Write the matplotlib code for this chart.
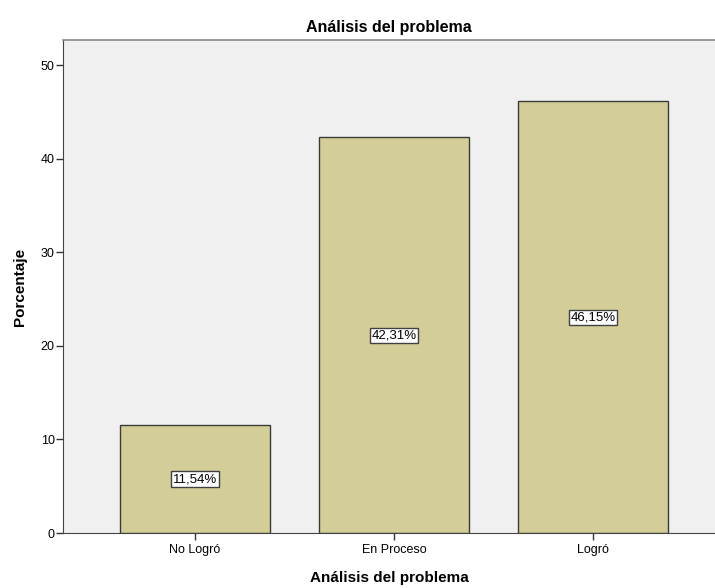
import matplotlib
matplotlib.use('Agg')
import matplotlib.pyplot as plt
import numpy as np

plt.rcParams['font.family'] = ['Liberation Sans', 'DejaVu Sans']

categorias = ['No Logró', 'En Proceso', 'Logró']
porcentajes = [11.54, 42.31, 46.15]
etiquetas = ['11,54%', '42,31%', '46,15%']
ticks_y = [0, 10, 20, 30, 40, 50]

fig = plt.figure(figsize=(7.15, 5.88), dpi=100)
ax = fig.add_axes([63 / 715, 55 / 588, 652 / 715, 493 / 588])
ax.set_facecolor('#f0f0f0')

x = np.arange(len(categorias))
ax.bar(x, porcentajes, width=0.75, color='#d3ce98', edgecolor='#3a3a3a', linewidth=1.0, zorder=2)

# etiqueta de porcentaje en el centro de cada barra
for xi, val, txt in zip(x, porcentajes, etiquetas):
    ax.text(xi, val / 2, txt, ha='center', va='center', fontsize=9.5, zorder=3,
            bbox=dict(boxstyle='square,pad=0.12', facecolor='white', edgecolor='#404040', linewidth=1.0))

ax.set_xlim(-0.663, 2.613)
ax.set_ylim(0, 52.7)
ax.set_xticks(x)
ax.set_xticklabels(categorias, fontsize=9)
ax.set_yticks(ticks_y)
ax.tick_params(axis='y', labelsize=9, length=5, width=1, color='#333333', pad=1)
ax.tick_params(axis='x', length=5, width=1, color='#333333', pad=3)

ax.spines['right'].set_visible(False)
ax.spines['top'].set_color('#888888')
ax.spines['top'].set_linewidth(1.2)
ax.spines['left'].set_color('#444444')
ax.spines['bottom'].set_color('#444444')

ax.set_title('Análisis del problema', fontsize=11.5, fontweight='bold', pad=6)
ax.set_xlabel('Análisis del problema', fontsize=11, fontweight='bold', labelpad=11)
ax.set_ylabel('Porcentaje', fontsize=11, fontweight='bold', labelpad=10)

fig.savefig('out.png', dpi=100)
